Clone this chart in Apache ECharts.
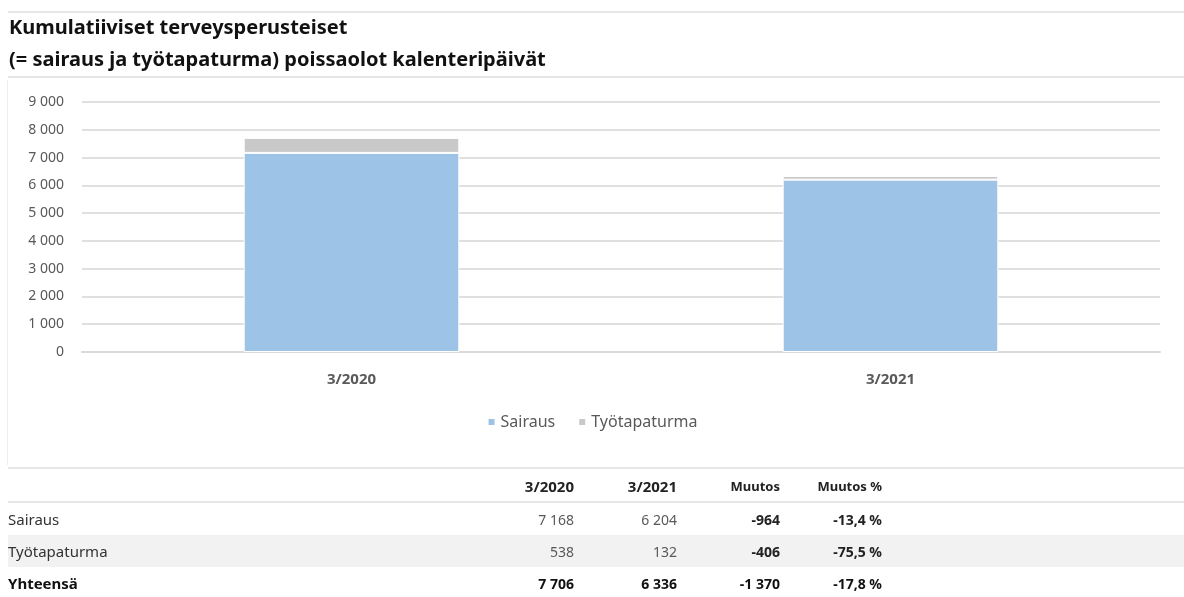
<!DOCTYPE html>
<html>
<head>
<meta charset="utf-8">
<script src="https://cdn.jsdelivr.net/npm/echarts@6/dist/echarts.min.js"></script>
<style>
  html, body { margin: 0; padding: 0; background: #fff; }
  body { width: 1184px; height: 597px; position: relative; overflow: hidden;
         font-family: "Noto Sans", "Open Sans", sans-serif; }
  #chart { position: absolute; left: 0; top: 0; width: 1184px; height: 597px; }
  .hline { position: absolute; left: 8px; right: 0; height: 2px; background: #e6e6e6; }
  .vline { position: absolute; left: 7px; top: 80px; width: 1px; height: 385px; background: #eeeeee; }
  #table { position: absolute; left: 8px; top: 470px; width: 1176px; border-collapse: collapse;
           font-size: 15px; color: #333; }
  #table td { padding: 0; height: 32px; white-space: nowrap; }
  #table td.num { text-align: right; }
  #table tr.head td { font-weight: bold; color: #222; height: 31px; border-bottom: 2px solid #e6e6e6; }
  #table tr.head td.small { font-size: 13px; }
  #table tr.alt td { background: #f2f2f2; }
  #table td.v { color: #595959; font-size: 14px; }
  #table td.b { font-weight: bold; color: #222; font-size: 14px; }
  #table tr.total td { font-weight: bold; color: #111; }
</style>
</head>
<body>
<div class="hline" style="top:11px"></div>
<div class="hline" style="top:76px"></div>
<div class="vline"></div>
<div id="chart"></div>
<div class="hline" style="top:467px"></div>
<table id="table"></table>
<script>
// otsikko
const titleLines = ['Kumulatiiviset terveysperusteiset', '(= sairaus ja työtapaturma) poissaolot kalenteripäivät']
// kategoriat ja sarjat
const categories = ['3/2020', '3/2021']
const seriesNames = ['Sairaus', 'Työtapaturma']
const sairaus = [7168, 6204]
const tyotapaturma = [538, 132]
const yTicks = { min: 0, max: 9000, interval: 1000 }
const seriesColors = ['#9dc3e6', '#c9c9c9']

// luvut muotoon "7 168" / "-13,4 %"
function fmt(n) {
  let s = Math.abs(n).toString().replace(/\B(?=(\d{3})+(?!\d))/g, ' ')
  return (n < 0 ? '-' : '') + s
}
function fmtPct(p) {
  return p.toFixed(1).replace('.', ',') + ' %'
}

const chart = echarts.init(document.getElementById('chart'))
chart.setOption({
  animation: false,
  textStyle: { fontFamily: '"Noto Sans", "Open Sans", sans-serif' },
  title: {
    text: titleLines.join('\n'),
    left: 9,
    top: 12,
    padding: 0,
    textStyle: { fontSize: 20, fontWeight: 'bold', color: '#111', lineHeight: 32 }
  },
  legend: {
    data: seriesNames,
    left: 'center',
    top: 409,
    itemWidth: 8,
    itemHeight: 8,
    itemGap: 22,
    icon: 'rect',
    textStyle: { fontSize: 16, color: '#595959' }
  },
  grid: { left: 82, right: 24, top: 102, bottom: 245 },
  xAxis: {
    type: 'category',
    data: categories,
    axisTick: { show: false },
    axisLine: { lineStyle: { color: '#d9d9d9', width: 2 } },
    axisLabel: { margin: 20, fontSize: 15, fontWeight: 'bold', color: '#595959' }
  },
  yAxis: {
    type: 'value',
    min: yTicks.min,
    max: yTicks.max,
    interval: yTicks.interval,
    axisLine: { show: false },
    axisTick: { show: false },
    splitLine: { lineStyle: { color: '#e0e0e0', width: 2 } },
    axisLabel: { margin: 18, fontSize: 14, color: '#595959', formatter: v => fmt(v) }
  },
  series: [
    {
      name: seriesNames[0],
      type: 'bar',
      stack: 'yht',
      barWidth: '40%',
      data: sairaus,
      itemStyle: { color: seriesColors[0], borderColor: '#fff', borderWidth: 1 }
    },
    {
      name: seriesNames[1],
      type: 'bar',
      stack: 'yht',
      data: tyotapaturma,
      itemStyle: { color: seriesColors[1], borderColor: '#fff', borderWidth: 1 }
    }
  ]
})

// taulukko kaavion alle
const rows = [
  { name: seriesNames[0], a: sairaus[0], b: sairaus[1] },
  { name: seriesNames[1], a: tyotapaturma[0], b: tyotapaturma[1], cls: 'alt' },
  { name: 'Yhteensä', a: sairaus[0] + tyotapaturma[0], b: sairaus[1] + tyotapaturma[1], cls: 'total' }
]
let html = '<colgroup><col style="width:450px"><col style="width:116px"><col style="width:103px"><col style="width:103px"><col style="width:102px"><col></colgroup>'
html += '<tr class="head"><td></td><td class="num">' + categories[0] + '</td><td class="num">' + categories[1] +
  '</td><td class="num small">Muutos</td><td class="num small">Muutos %</td><td></td></tr>'
rows.forEach(r => {
  const d = r.b - r.a
  html += '<tr class="' + (r.cls || '') + '"><td>' + r.name + '</td>' +
    '<td class="num v">' + fmt(r.a) + '</td>' +
    '<td class="num v">' + fmt(r.b) + '</td>' +
    '<td class="num b">' + fmt(d) + '</td>' +
    '<td class="num b">' + fmtPct(d / r.a * 100) + '</td><td></td></tr>'
})
document.getElementById('table').innerHTML = html
</script>
</body>
</html>
